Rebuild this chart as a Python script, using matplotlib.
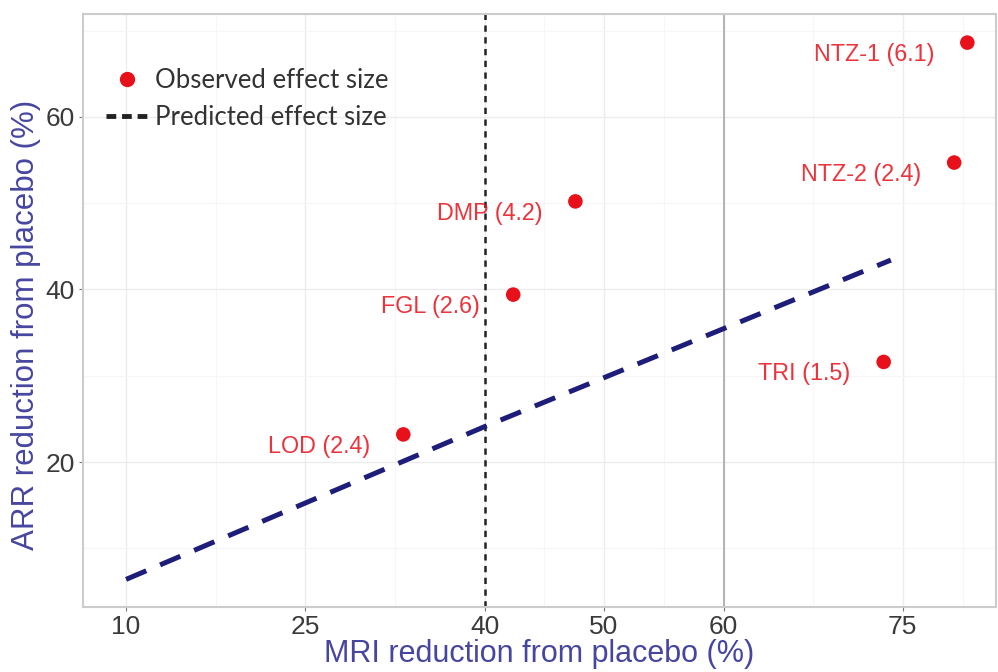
import matplotlib
matplotlib.use("Agg")
import matplotlib.pyplot as plt
from matplotlib.lines import Line2D

# observed trials: MRI reduction vs ARR reduction (%)
drugs = ["NTZ-1 (6.1)", "NTZ-2 (2.4)", "DMP (4.2)", "FGL (2.6)", "TRI (1.5)", "LOD (2.4)"]
mri_red = [80.4, 79.3, 47.6, 42.4, 73.4, 33.2]
arr_red = [68.6, 54.7, 50.2, 39.4, 31.6, 23.2]

# predicted effect size line
pred_x = [10, 40, 74]
pred_y = [6.4, 24.1, 43.4]

xticks = [10, 25, 40, 50, 60, 75]
yticks = [20, 40, 60]

red = "#e8101a"
navy = "#1e1e7a"
title_col = "#4646a0"

plt.rcParams["font.family"] = ["Liberation Sans", "DejaVu Sans"]

fig = plt.figure(figsize=(9.98, 6.72), dpi=100)
ax = fig.add_axes([0.0832, 0.0967, 0.9148, 0.8823])

ax.set_xlim(6.4, 82.8)
ax.set_ylim(3.2, 71.9)

# grid (faint, ggplot-like)
ax.set_xticks(xticks)
ax.set_yticks(yticks)
ax.set_xticks([17.5, 32.5, 45, 55, 67.5, 80], minor=True)
ax.set_yticks([10, 30, 50, 70], minor=True)
ax.grid(True, which="major", color="#ececec", lw=1.0)
ax.grid(True, which="minor", color="#f6f6f6", lw=0.8)
ax.set_axisbelow(True)

ax.axvline(60, color="#a8a8a8", lw=1.2, zorder=1)
ax.axvline(40, color="#222222", lw=1.8, linestyle=(0, (2.5, 2.2)), zorder=2)

ln, = ax.plot(pred_x, pred_y, color=navy, lw=3.6, solid_capstyle="butt",
              dash_capstyle="butt", zorder=3)
ln.set_dashes([4.4, 3.0])

ax.scatter(mri_red, arr_red, s=110, color=red, edgecolors="none", zorder=4)
for lab, x, y in zip(drugs, mri_red, arr_red):
    ax.annotate(lab, (x, y), xytext=(-33, -12), textcoords="offset pixels",
                ha="right", va="center", color=red, fontsize=16.8, alpha=0.85)

for s in ax.spines.values():
    s.set_color("#cccccc")
    s.set_linewidth(1.5)

ax.tick_params(which="major", length=3, color="#777777", labelsize=19,
               labelcolor="#3a3a3a", pad=3)
ax.tick_params(which="minor", length=0)

ax.set_xlabel("MRI reduction from placebo (%)", fontsize=22, color=title_col, labelpad=0)
ax.set_ylabel("ARR reduction from placebo (%)", fontsize=22.5, color=title_col, labelpad=1)
ax.yaxis.set_label_coords(-0.046, 0.476)

handles = [
    Line2D([], [], marker="o", color=red, linestyle="none", markersize=10),
    Line2D([], [], color="#222222", lw=3.5, dashes=[2.0, 1.2]),
]
ax.legend(handles, ["Observed effect size", "Predicted effect size"],
          loc="upper left", bbox_to_anchor=(0.0, 0.948), frameon=False,
          prop={"family": "Lato", "size": 18.5}, labelcolor="#333333",
          handlelength=1.6, handletextpad=0.3, labelspacing=0.48)

fig.savefig("out.png", dpi=100)
